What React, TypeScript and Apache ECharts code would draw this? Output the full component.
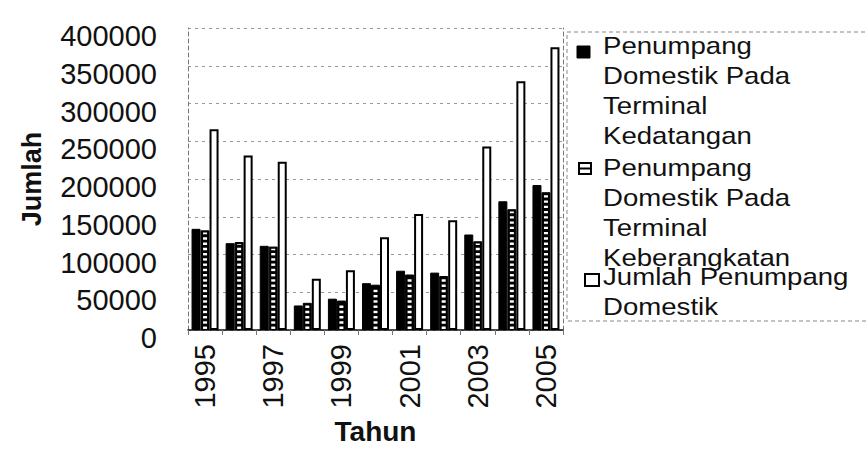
import React, { useEffect, useRef } from "react";
import * as echarts from "echarts";

const years = ["1995", "1996", "1997", "1998", "1999", "2000", "2001", "2002", "2003", "2004", "2005"];
const kedatangan = [134000, 115000, 111500, 32500, 41500, 62000, 78500, 76000, 126500, 170500, 192000];
const keberangkatan = [132000, 116500, 110500, 36000, 39000, 60000, 73500, 71500, 117500, 160000, 182500];
const jumlah = [266000, 231000, 223000, 68000, 79000, 123000, 153500, 145500, 243000, 329500, 374500];

const seriesNames = [
  "Penumpang Domestik Pada Terminal Kedatangan",
  "Penumpang Domestik Pada Terminal Keberangkatan",
  "Jumlah Penumpang Domestik",
];
const legendLines = [
  ["Penumpang", "Domestik Pada", "Terminal", "Kedatangan"],
  ["Penumpang", "Domestik Pada", "Terminal", "Keberangkatan"],
  ["Jumlah Penumpang", "Domestik"],
];
const yAxisTitle = "Jumlah";
const xAxisTitle = "Tahun";

const FONT = "'Liberation Sans', Arial, Helvetica, sans-serif";

export default function App() {
  const ref = useRef<HTMLDivElement>(null);
  useEffect(() => {
    if (!ref.current) return;
    const chart = echarts.init(ref.current, undefined, { renderer: "svg" });
    const legendTops = [31, 153, 262];
    const legendGraphics: any[] = [
      {
        type: "rect",
        shape: { x: 567, y: 32, width: 320, height: 289 },
        style: { fill: "none", stroke: "#888", lineWidth: 1, lineDash: [4, 3] },
        silent: true,
      },
      {
        type: "rect",
        shape: { x: 577, y: 46, width: 13, height: 12 },
        style: { fill: "#000", stroke: "#000", lineWidth: 1 },
      },
      {
        type: "rect",
        shape: { x: 579, y: 163, width: 12, height: 11 },
        style: { fill: "#fff", stroke: "#000", lineWidth: 2 },
      },
      {
        type: "line",
        shape: { x1: 579, y1: 168.5, x2: 591, y2: 168.5 },
        style: { stroke: "#000", lineWidth: 2 },
      },
      {
        type: "rect",
        shape: { x: 585, y: 274, width: 14, height: 12 },
        style: { fill: "#fff", stroke: "#000", lineWidth: 2 },
      },
    ];
    legendLines.forEach((lines, i) => {
      legendGraphics.push({
        type: "text",
        x: 603,
        y: legendTops[i],
        scaleX: 1.15,
        style: {
          text: lines.join("\n"),
          font: `24px ${FONT}`,
          lineHeight: 30,
          fill: "#111",
          textVerticalAlign: "top",
        },
      });
    });

    chart.setOption({
      animation: false,
      backgroundColor: "#fff",
      grid: { left: 188, right: 304, top: 28, bottom: 128 },
      xAxis: {
        type: "category",
        data: years,
        name: xAxisTitle,
        nameLocation: "middle",
        nameGap: 87,
        nameTextStyle: { fontFamily: FONT, fontSize: 28, fontWeight: "bold", color: "#111" },
        axisLine: { lineStyle: { color: "#111", width: 1.5 } },
        axisTick: { show: true, interval: 0, length: 5, lineStyle: { color: "#777" } },
        axisLabel: {
          interval: 1,
          rotate: 90,
          margin: 14,
          fontFamily: FONT,
          fontSize: 29,
          color: "#111",
        },
      },
      yAxis: [
        {
          type: "value",
          min: 0,
          max: 400000,
          interval: 50000,
          name: yAxisTitle,
          nameLocation: "middle",
          nameGap: 143,
          nameTextStyle: { fontFamily: FONT, fontSize: 27, fontWeight: "bold", color: "#111" },
          axisLine: { show: true, lineStyle: { color: "#777", type: [4, 3] } },
          axisTick: { show: false },
          axisLabel: {
            margin: 31,
            color: "#111",
            formatter: (v: number) => `{v|${String(v)}}`,
            rich: {
              v: { fontFamily: FONT, fontSize: 29, color: "#111", padding: [16, 0, 0, 0] },
            },
          },
          splitLine: { show: true, lineStyle: { color: "#999", type: [3, 4] } },
        },
        {
          type: "value",
          position: "right",
          min: 0,
          max: 400000,
          interval: 50000,
          axisLine: { show: true, lineStyle: { color: "#777", type: [4, 3] } },
          axisTick: { show: false },
          axisLabel: { show: false },
          splitLine: { show: false },
        },
      ],
      series: [
        {
          name: seriesNames[0],
          type: "bar",
          data: kedatangan,
          barWidth: 9,
          barGap: "0%",
          itemStyle: { color: "#000", borderColor: "#000", borderWidth: 1 },
        },
        {
          name: seriesNames[1],
          type: "bar",
          data: keberangkatan,
          barWidth: 9,
          barGap: "0%",
          itemStyle: { color: "#000", borderColor: "#000", borderWidth: 1 },
        },
        {
          name: seriesNames[2],
          type: "bar",
          data: jumlah,
          barWidth: 9,
          barGap: "0%",
          itemStyle: { color: "#fff", borderColor: "#000", borderWidth: 2 },
        },
        {
          name: seriesNames[1] + " pola",
          type: "pictorialBar",
          data: keberangkatan.map((v) => v - 3000),
          symbol: "rect",
          symbolRepeat: true,
          symbolSize: [4, 2.5],
          symbolMargin: 1.4,
          symbolClip: true,
          symbolOffset: [0, -1],
          itemStyle: { color: "#fff" },
          z: 5,
          silent: true,
        },
      ],
      graphic: legendGraphics,
    });
    return () => chart.dispose();
  }, []);
  return (
    <div
      ref={ref}
      style={{ position: "fixed", left: 0, top: 0, width: 867, height: 458, background: "#fff" }}
    />
  );
}
